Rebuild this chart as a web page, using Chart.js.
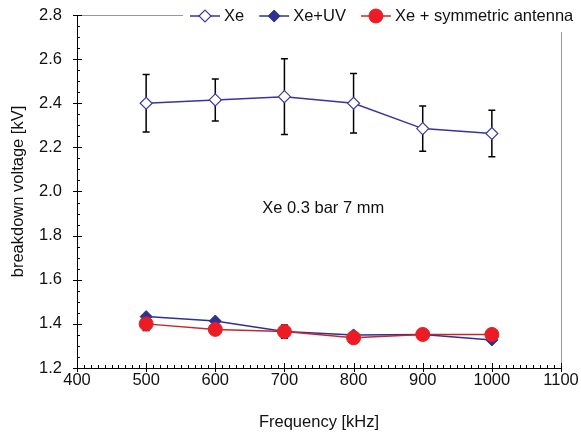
<!DOCTYPE html>
<html>
<head>
<meta charset="utf-8">
<script src="https://cdn.jsdelivr.net/npm/chart.js@4.4.0/dist/chart.umd.min.js"></script>
<style>
  html, body { margin: 0; padding: 0; background: #fff; }
</style>
</head>
<body>
<canvas id="chart" width="581" height="435"></canvas>
<script>
// Datos
const frequencies = [500, 600, 700, 800, 900, 1000];
const xeValues = [2.40, 2.415, 2.43, 2.40, 2.285, 2.263];
const xeErrors = [0.13, 0.095, 0.172, 0.135, 0.103, 0.105];
const xeUvValues = [1.433, 1.413, 1.365, 1.35, 1.352, 1.327];
const xeAntennaValues = [1.40, 1.375, 1.365, 1.337, 1.352, 1.352];
const xeAntennaErrors = [0.03, 0.02, 0.03, 0.02, 0.02, 0.02];
const seriesLabels = ['Xe', 'Xe+UV', 'Xe + symmetric antenna'];
const annotationText = 'Xe 0.3 bar 7 mm';
const annotationAt = { x: 756, y: 1.925 };

const FONT = "'Liberation Sans', Arial, sans-serif";
Chart.defaults.font.family = FONT;
Chart.defaults.font.size = 16.5;
Chart.defaults.color = '#111';

function toPoints(values) {
    return frequencies.map((f, i) => ({ x: f, y: values[i] }));
}

function drawMarker(ctx, style, x, y) {
    ctx.save();
    ctx.lineWidth = style.pointBorderWidth;
    ctx.strokeStyle = style.pointBorderColor;
    ctx.fillStyle = style.pointBackgroundColor;
    ctx.beginPath();
    const r = style.pointRadius;
    if (style.pointStyle === 'rectRot') {
        ctx.moveTo(x - r, y);
        ctx.lineTo(x, y - r);
        ctx.lineTo(x + r, y);
        ctx.lineTo(x, y + r);
        ctx.closePath();
    } else {
        ctx.arc(x, y, r, 0, Math.PI * 2);
    }
    ctx.fill();
    ctx.stroke();
    ctx.restore();
}

// Barras de error
const errorBarsPlugin = {
    id: 'errorBars',
    beforeDatasetsDraw(chart) {
        const ctx = chart.ctx;
        const yScale = chart.scales.y;
        chart.data.datasets.forEach((ds, di) => {
            if (!ds.errors) return;
            const meta = chart.getDatasetMeta(di);
            ctx.save();
            ctx.strokeStyle = '#000';
            ctx.lineWidth = 1.5;
            meta.data.forEach((pt, i) => {
                const v = ds.data[i].y;
                const e = ds.errors[i];
                const top = yScale.getPixelForValue(v + e);
                const bot = yScale.getPixelForValue(v - e);
                ctx.beginPath();
                ctx.moveTo(pt.x, top);
                ctx.lineTo(pt.x, bot);
                ctx.moveTo(pt.x - 3.5, top);
                ctx.lineTo(pt.x + 3.5, top);
                ctx.moveTo(pt.x - 3.5, bot);
                ctx.lineTo(pt.x + 3.5, bot);
                ctx.stroke();
            });
            ctx.restore();
        });
    }
};

// Marco, marcas menores y mayores
const frameTicksPlugin = {
    id: 'frameTicks',
    beforeDatasetsDraw(chart) {
        const ctx = chart.ctx;
        const { left, right, top, bottom } = chart.chartArea;
        const xs = chart.scales.x;
        const ys = chart.scales.y;
        ctx.save();
        ctx.strokeStyle = '#999';
        ctx.lineWidth = 1;
        ctx.beginPath();
        ctx.moveTo(left, top + 0.5);
        ctx.lineTo(right + 0.5, top + 0.5);
        ctx.lineTo(right + 0.5, bottom);
        ctx.stroke();

        ctx.strokeStyle = '#000';
        ctx.beginPath();
        for (let f = 400; f <= 1100; f += 10) {
            const px = Math.round(xs.getPixelForValue(f)) + 0.5;
            if (f % 100 === 0) {
                ctx.moveTo(px, bottom - 5);
                ctx.lineTo(px, bottom + 4);
            } else {
                ctx.moveTo(px, bottom - 3);
                ctx.lineTo(px, bottom);
            }
        }
        for (let k = 0; k <= 32; k++) {
            const v = 1.2 + k * 0.05;
            const py = Math.round(ys.getPixelForValue(v)) + 0.5;
            if (k % 4 === 0) {
                ctx.moveTo(left - 4, py);
                ctx.lineTo(left + 5, py);
            } else {
                ctx.moveTo(left, py);
                ctx.lineTo(left + 3, py);
            }
        }
        ctx.stroke();
        ctx.restore();
    },
    afterDatasetsDraw(chart) {
        const ctx = chart.ctx;
        ctx.save();
        ctx.fillStyle = '#111';
        ctx.font = '16.5px ' + FONT;
        ctx.textAlign = 'center';
        ctx.textBaseline = 'middle';
        ctx.fillText(annotationText,
            chart.scales.x.getPixelForValue(annotationAt.x),
            chart.scales.y.getPixelForValue(annotationAt.y));
        ctx.restore();
    }
};

// Leyenda dibujada sobre el borde superior
const topLegendPlugin = {
    id: 'topLegend',
    afterDraw(chart) {
        const ctx = chart.ctx;
        ctx.save();
        ctx.fillStyle = '#fff';
        ctx.fillRect(183, 0, chart.width - 183, 32);
        ctx.font = '16.5px ' + FONT;
        ctx.textBaseline = 'middle';
        let x = 190;
        const y = 16;
        chart.data.datasets.forEach((ds) => {
            ctx.strokeStyle = ds.borderColor;
            ctx.lineWidth = ds.borderWidth;
            ctx.beginPath();
            ctx.moveTo(x, y);
            ctx.lineTo(x + 30, y);
            ctx.stroke();
            drawMarker(ctx, ds, x + 15, y);
            ctx.fillStyle = '#111';
            ctx.fillText(ds.label, x + 34, y);
            x += 34 + ctx.measureText(ds.label).width + 15;
        });
        ctx.restore();
    }
};

const ctx = document.getElementById('chart').getContext('2d');
window.myChart = new Chart(ctx, {
    type: 'line',
    data: {
        datasets: [
            {
                label: seriesLabels[0],
                data: toPoints(xeValues),
                errors: xeErrors,
                borderColor: '#35359e',
                borderWidth: 1.5,
                pointStyle: 'rectRot',
                pointRadius: 6,
                pointBackgroundColor: '#fff',
                pointBorderColor: '#3c3ca8',
                pointBorderWidth: 1.2,
                order: 2
            },
            {
                label: seriesLabels[1],
                data: toPoints(xeUvValues),
                borderColor: '#2e3192',
                borderWidth: 1.5,
                pointStyle: 'rectRot',
                pointRadius: 6,
                pointBackgroundColor: '#2e3192',
                pointBorderColor: '#2e3192',
                pointBorderWidth: 1,
                order: 1
            },
            {
                label: seriesLabels[2],
                data: toPoints(xeAntennaValues),
                errors: xeAntennaErrors,
                borderColor: '#c1272d',
                borderWidth: 1.5,
                pointStyle: 'circle',
                pointRadius: 7,
                pointBackgroundColor: '#ed1c24',
                pointBorderColor: '#e0202a',
                pointBorderWidth: 1,
                order: 0
            }
        ]
    },
    options: {
        responsive: false,
        animation: false,
        layout: { padding: { left: 0, right: 20, top: 15, bottom: 0 } },
        plugins: {
            legend: { display: false },
            tooltip: { enabled: false }
        },
        scales: {
            x: {
                type: 'linear',
                min: 400,
                max: 1100,
                ticks: { stepSize: 100, padding: 3, color: '#111', callback: v => String(v) },
                grid: { drawOnChartArea: false, drawTicks: false },
                border: { display: true, color: '#000', width: 1 },
                title: { display: true, text: 'Frequency [kHz]', padding: { top: 0, bottom: 3 }, color: '#111' },
                afterFit(scale) {
                    scale.height = 67;
                    scale.paddingLeft = 0;
                    scale.paddingRight = 0;
                }
            },
            y: {
                min: 1.2,
                max: 2.8,
                ticks: { stepSize: 0.2, padding: 15, color: '#111', callback: v => v.toFixed(1) },
                grid: { drawOnChartArea: false, drawTicks: false },
                border: { display: true, color: '#000', width: 1 },
                title: { display: true, text: 'breakdown voltage [kV]', padding: { top: 9, bottom: 0 }, color: '#111' },
                afterFit(scale) {
                    scale.width = 77;
                    scale.paddingTop = 0;
                    scale.paddingBottom = 0;
                }
            }
        }
    },
    plugins: [frameTicksPlugin, errorBarsPlugin, topLegendPlugin]
});
</script>
</body>
</html>
